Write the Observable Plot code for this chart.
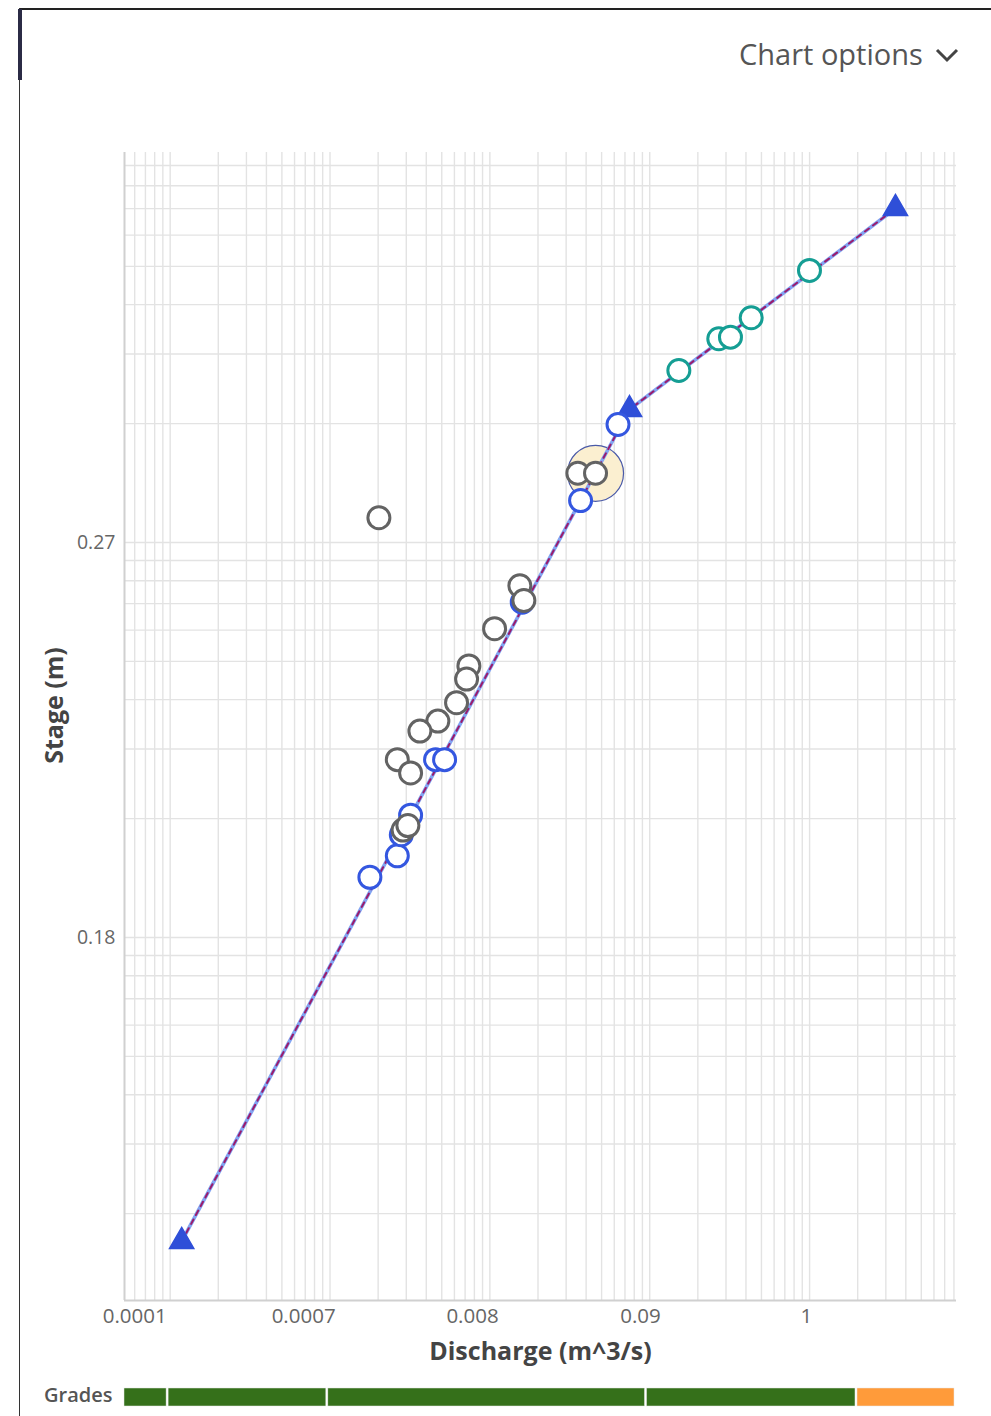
<!DOCTYPE html>
<html>
<head>
<meta charset="utf-8">
<script src="https://cdn.jsdelivr.net/npm/d3@7"></script>
<script src="https://cdn.jsdelivr.net/npm/@observablehq/plot@0.6"></script>
<style>
  html, body { margin: 0; padding: 0; background: #fff; }
  body { width: 991px; height: 1416px; position: relative; overflow: hidden; font-family: "Open Sans", sans-serif; }
  #card-top { position: absolute; left: 19px; top: 8px; width: 972px; height: 0; border-top: 2px solid #222; }
  #card-left { position: absolute; left: 19px; top: 8px; width: 0; height: 1408px; border-left: 1.5px solid #333; }
  #card-accent { position: absolute; left: 18px; top: 9px; width: 4px; height: 71px; background: #2b2b45; }
  #options { position: absolute; left: 739px; top: 34px; font-size: 29px; color: #555; white-space: nowrap; line-height: 40px; }
  #options svg { vertical-align: middle; margin-left: 12px; margin-top: -4px; }
  #main { position: absolute; left: 0; top: 0; }
  #grades-label { position: absolute; left: 44px; top: 1382px; font-size: 20px; font-weight: 600; color: #555; line-height: 26px; }
  #grades { position: absolute; left: 0; top: 1387px; }
</style>
</head>
<body>
<div id="card-top"></div>
<div id="card-left"></div>
<div id="card-accent"></div>
<div id="options">Chart options<svg width="24" height="16" viewBox="0 0 24 16"><polyline points="2,3 12,13 22,3" fill="none" stroke="#444" stroke-width="3"/></svg></div>
<div id="main"></div>
<div id="grades-label">Grades</div>
<div id="grades"></div>
<script>
// ---- data ----
const OFFSET = 0.17;                       // stage offset of the log axis (m)

const blueQ     = [0.001776, 0.002636, 0.002792, 0.003192, 0.004574, 0.005208, 0.01594, 0.03693, 0.06333];
const blueStage = [0.1842,   0.1861,   0.1882,   0.1904,   0.1982,   0.1982,   0.2406,  0.2977,  0.3689];

const greyQ     = [0.002022, 0.01540, 0.01632, 0.01070, 0.007391, 0.007150, 0.006188, 0.004728, 0.003650, 0.002636, 0.003192, 0.002865, 0.003070, 0.03551, 0.04581];
const greyStage = [0.2855,   0.2477,  0.2413,  0.2305,  0.2187,   0.2151,   0.2093,   0.2053,   0.2033,   0.1982,   0.1961,   0.1887,   0.1892,   0.3197,  0.3197];

const tealQ     = [0.1521, 0.2704, 0.3200, 0.4313, 0.9986];
const tealStage = [0.4425, 0.4980, 0.5010, 0.5406, 0.6583];

const curveQ     = [0.000118, 0.07475, 3.444];
const curveStage = [0.1717,   0.3871,  0.8709];

const highlightQ     = [0.04581];
const highlightStage = [0.3197];

const xDomain = [5.18e-5, 8.3];
const yDomain = [0.001205, 0.9712];       // stage minus offset

const xTickValues = [6.0e-5, 6.84e-4, 7.79e-3, 0.0876, 0.956];
const xTickLabels = ["0.0001", "0.0007", "0.008", "0.09", "1"];
const yTickStages = [0.27, 0.18];
const yTickLabels = ["0.27", "0.18"];

const xTitle = "Discharge (m^3/s)";
const yTitle = "Stage (m)";

const gradeBreaks = [0, 5.3, 24.5, 62.8, 88.1, 100];
const gradeColors = ["#35701a", "#35701a", "#35701a", "#35701a", "#ff9b3a"];

// ---- tables ----
const toRows = (qs, hs) => qs.map((q, i) => ({q, h: hs[i]}));
const blue = toRows(blueQ, blueStage);
const grey = toRows(greyQ, greyStage);
const teal = toRows(tealQ, tealStage);
const curve = toRows(curveQ, curveStage);
const highlight = toRows(highlightQ, highlightStage);
const xTicks = xTickValues.map((v, i) => ({v, label: xTickLabels[i]}));
const yTicks = yTickStages.map((s, i) => ({v: s - OFFSET, label: yTickLabels[i]}));
const grades = gradeColors.map((c, i) => ({start: gradeBreaks[i], end: gradeBreaks[i + 1], color: c}));

const xGrid = d3.scaleLog().domain(xDomain).ticks();
const yGrid = d3.scaleLog().domain(yDomain).ticks();

const Y = d => d.h - OFFSET;

const chart = Plot.plot({
  width: 991,
  height: 1380,
  marginTop: 152,
  marginLeft: 124,
  marginRight: 35,
  marginBottom: 80,
  style: {fontFamily: "'Open Sans', sans-serif", background: "transparent"},
  x: {type: "log", domain: xDomain, axis: null},
  y: {type: "log", domain: yDomain, axis: null},
  marks: [
    Plot.ruleX(xGrid, {stroke: "#e3e3e3", strokeWidth: 1.4}),
    Plot.ruleY(yGrid, {stroke: "#e3e3e3", strokeWidth: 1.4}),
    Plot.ruleX([xDomain[0]], {stroke: "#d0d0d0", strokeWidth: 2}),
    Plot.ruleY([yDomain[0]], {stroke: "#d0d0d0", strokeWidth: 2}),
    Plot.text(xTicks, {x: "v", text: "label", frameAnchor: "bottom", dy: 22, fontSize: 20.5, fill: "#666"}),
    Plot.text(yTicks, {y: "v", text: "label", frameAnchor: "left", textAnchor: "end", dx: -9, fontSize: 19.5, fill: "#666"}),
    Plot.text([xTitle], {text: d => d, frameAnchor: "bottom", textAnchor: "middle", dy: 59, fontSize: 25, fontWeight: "bold", fill: "#444"}),
    Plot.text([yTitle], {text: d => d, frameAnchor: "left", textAnchor: "middle", rotate: -90, dx: -70, dy: -21, fontSize: 25, fontWeight: "bold", fill: "#444"}),
    Plot.dot(highlight, {x: "q", y: Y, r: 28, fill: "#fbefd0", stroke: "#4a5aa8", strokeWidth: 1.2}),
    Plot.line(curve, {x: "q", y: Y, stroke: "#82a4f2", strokeWidth: 3.6}),
    Plot.line(curve, {x: "q", y: Y, stroke: "#9a1b6d", strokeWidth: 2, strokeDasharray: "5,5"}),
    Plot.dot(curve, {x: "q", y: Y, symbol: "triangle", r: 9, fill: "#2f4fd8", stroke: "#2f4fd8"}),
    Plot.dot(blue, {x: "q", y: Y, r: 11, fill: "white", stroke: "#3457e0", strokeWidth: 3}),
    Plot.dot(grey, {x: "q", y: Y, r: 11, fill: "white", stroke: "#636363", strokeWidth: 3}),
    Plot.dot(teal, {x: "q", y: Y, r: 11, fill: "white", stroke: "#159e94", strokeWidth: 3})
  ]
});
document.getElementById("main").appendChild(chart);

const gradeBar = Plot.plot({
  width: 991,
  height: 20,
  marginTop: 1,
  marginBottom: 1,
  marginLeft: 123,
  marginRight: 36,
  x: {domain: [0, 100], axis: null},
  style: {background: "transparent"},
  marks: [
    Plot.rectX(grades, {x1: "start", x2: "end", fill: "color", insetLeft: 1, insetRight: 1, stroke: "#e8e8e8", strokeWidth: 0.5})
  ]
});
document.getElementById("grades").appendChild(gradeBar);
</script>
</body>
</html>
